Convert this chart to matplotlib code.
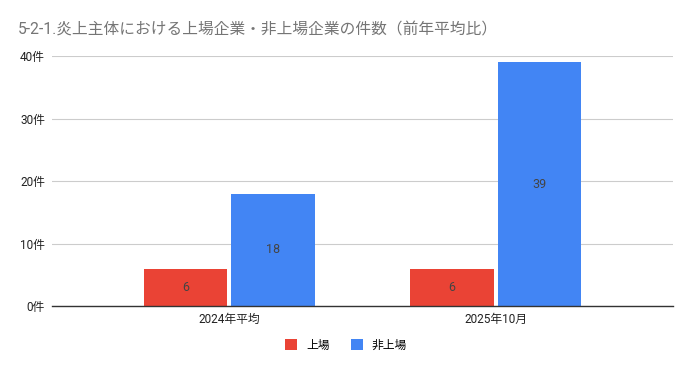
import matplotlib
matplotlib.use("Agg")
import matplotlib.pyplot as plt
import numpy as np

plt.rcParams['font.family'] = ['Roboto', 'Noto Sans CJK JP', 'DejaVu Sans']

categories = ["2024年平均", "2025年10月"]
series_names = ["上場", "非上場"]
listed = [6, 6]
unlisted = [18, 39]
colors = ["#ea4335", "#4285f4"]
yticks = [0, 10, 20, 30, 40]
title = "5-2-1.炎上主体における上場企業・非上場企業の件数（前年平均比）"

fig = plt.figure(figsize=(6.92, 3.71), dpi=100)
ax = fig.add_axes([52/692, 1-306/371, (673-52)/692, (306-56)/371])

x = np.arange(len(categories))
w = 0.312
gap = 0.008
b1 = ax.bar(x - w/2 - gap, listed, w, color=colors[0], label=series_names[0], zorder=3)
b2 = ax.bar(x + w/2 + gap, unlisted, w, color=colors[1], label=series_names[1], zorder=3)
for bars, vals in ((b1, listed), (b2, unlisted)):
    for r, v in zip(bars, vals):
        ax.text(r.get_x() + r.get_width()/2, v/2, str(v), ha='center', va='center',
                fontsize=9, color='#444444', zorder=4)

ax.set_xlim(-0.665, 1.665)
ax.set_ylim(0, 40)
ax.set_yticks(yticks)
ax.set_yticklabels([f"{t}件" for t in yticks], fontsize=8.5, color='#222222')
ax.set_xticks(x)
ax.set_xticklabels(categories, fontsize=8.5, color='#222222')
ax.tick_params(axis='both', length=0, pad=5)
ax.grid(axis='y', color='#cccccc', linewidth=0.8, zorder=0)
for s in ['top', 'right', 'left']:
    ax.spines[s].set_visible(False)
ax.spines['bottom'].set_color('#333333')
ax.spines['bottom'].set_linewidth(1.0)
ax.spines['bottom'].set_zorder(5)

fig.text(18/692, 1-30/371, title, fontsize=11.3, color='#757575', ha='left', va='center')

fig.legend(handles=[b1, b2], labels=series_names, loc='center', bbox_to_anchor=(0.5, 1-345/371),
           ncol=2, frameon=False, fontsize=8.5, handlelength=1.0, handleheight=1.0,
           columnspacing=1.8, handletextpad=0.8)

fig.savefig("out.png", dpi=100)
